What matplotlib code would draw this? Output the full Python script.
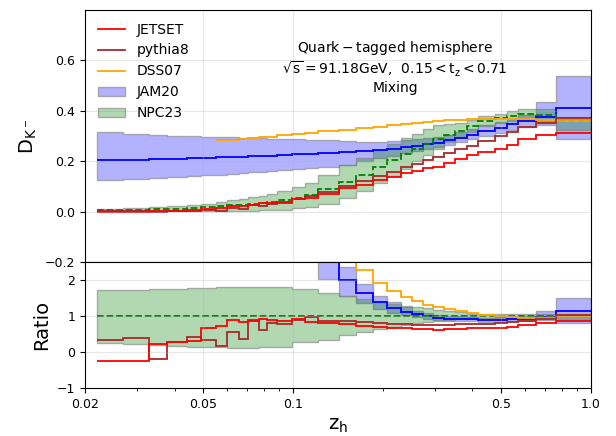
import matplotlib.pyplot as plt
import numpy as np
from matplotlib.lines import Line2D
from matplotlib.patches import Patch

plt.rcParams['mathtext.default'] = 'regular'

# z_h bin edges
z_edges = np.array([0.0219, 0.0269, 0.0329, 0.0378, 0.0439, 0.0489, 0.0549, 0.0598,
                    0.0658, 0.0707, 0.0768, 0.0815, 0.0881, 0.0989, 0.110, 0.121,
                    0.143, 0.163, 0.186, 0.207, 0.230, 0.251, 0.274, 0.295, 0.322,
                    0.351, 0.383, 0.419, 0.476, 0.525, 0.570, 0.657, 0.767, 1.0])

# NPC23 central value and band (band given relative to central)
npc23 = np.array([0.007, 0.008, 0.010, 0.012, 0.015, 0.018, 0.021, 0.025, 0.028, 0.032,
                  0.035, 0.039, 0.045, 0.055, 0.066, 0.088, 0.118, 0.146, 0.177, 0.203,
                  0.228, 0.250, 0.270, 0.290, 0.306, 0.320, 0.338, 0.358, 0.370, 0.380,
                  0.386, 0.382, 0.358])
npc23_lo_ratio = np.array([0.26, 0.23, 0.20, 0.17, 0.15, 0.14, 0.13, 0.12, 0.12, 0.12,
                           0.13, 0.15, 0.15, 0.27, 0.27, 0.33, 0.46, 0.55, 0.64, 0.70,
                           0.75, 0.80, 0.83, 0.86, 0.90, 0.92, 0.94, 0.95, 0.95, 0.95,
                           0.95, 0.92, 0.90])
npc23_hi_ratio = np.array([1.71, 1.72, 1.75, 1.76, 1.78, 1.79, 1.80, 1.81, 1.81, 1.82,
                           1.82, 1.80, 1.80, 1.75, 1.75, 1.63, 1.57, 1.47, 1.38, 1.33,
                           1.29, 1.24, 1.21, 1.18, 1.14, 1.10, 1.07, 1.06, 1.05, 1.05,
                           1.05, 1.07, 1.05])

# MC generators, relative to NPC23
jetset_ratio = np.array([-0.24, -0.24, 0.23, 0.28, 0.30, 0.67, 0.72, 0.88, 0.83, 0.87,
                         0.93, 0.90, 0.86, 0.91, 0.84, 0.81, 0.79, 0.72, 0.70, 0.68,
                         0.67, 0.64, 0.64, 0.61, 0.63, 0.65, 0.66, 0.66, 0.67, 0.70,
                         0.75, 0.80, 0.87])
pythia8_ratio = np.array([0.33, 0.39, -0.18, 0.28, 0.42, 0.33, 0.17, 0.56, 0.37, 0.88,
                          0.62, 0.81, 0.77, 0.90, 0.96, 0.87, 0.85, 0.83, 0.81, 0.78,
                          0.78, 0.76, 0.76, 0.75, 0.76, 0.78, 0.77, 0.78, 0.81, 0.83,
                          0.87, 0.92, 1.04])

# JAM20 central value and band
jam20 = np.array([0.203, 0.205, 0.207, 0.209, 0.211, 0.213, 0.215, 0.216, 0.218, 0.219,
                  0.220, 0.222, 0.224, 0.227, 0.229, 0.232, 0.236, 0.240, 0.244, 0.250,
                  0.256, 0.262, 0.268, 0.274, 0.284, 0.294, 0.306, 0.320, 0.333, 0.347,
                  0.358, 0.374, 0.410])
jam20_lo = np.array([0.127, 0.131, 0.135, 0.138, 0.141, 0.144, 0.147, 0.150, 0.153, 0.156,
                     0.159, 0.162, 0.166, 0.170, 0.174, 0.178, 0.185, 0.200, 0.212, 0.222,
                     0.232, 0.240, 0.248, 0.256, 0.265, 0.275, 0.287, 0.300, 0.312, 0.324,
                     0.336, 0.342, 0.290])
jam20_hi = np.array([0.316, 0.310, 0.305, 0.302, 0.300, 0.298, 0.296, 0.295, 0.294, 0.292,
                     0.291, 0.290, 0.288, 0.287, 0.286, 0.285, 0.280, 0.276, 0.277, 0.280,
                     0.283, 0.287, 0.292, 0.298, 0.306, 0.316, 0.328, 0.342, 0.355, 0.368,
                     0.382, 0.437, 0.540])

# DSS07 only covers z_h > 0.055
dss07_first_bin = 6
dss07 = np.array([0.284, 0.285, 0.290, 0.292, 0.295, 0.298, 0.303, 0.307, 0.312, 0.318,
                  0.325, 0.331, 0.337, 0.343, 0.348, 0.352, 0.356, 0.359, 0.362, 0.364,
                  0.366, 0.367, 0.368, 0.368, 0.367, 0.362, 0.358])

jetset = jetset_ratio * npc23
pythia8 = pythia8_ratio * npc23
npc23_lo = npc23_lo_ratio * npc23
npc23_hi = npc23_hi_ratio * npc23
dss_edges = z_edges[dss07_first_bin:]
dss07_ratio = dss07 / npc23[dss07_first_bin:]

jam_face = (0, 0, 1, 0.3)
npc_face = (0, 0.5, 0, 0.3)
band_edge = (0.5, 0.5, 0.5, 0.6)

fig, (ax, axr) = plt.subplots(2, 1, sharex=True, figsize=(6.16, 4.36), dpi=100,
                              gridspec_kw={'height_ratios': [2, 1]})
fig.subplots_adjust(left=0.138, right=0.959, top=0.977, bottom=0.110, hspace=0)

def draw(a, jet, pyt, dss, jam, jlo, jhi, nc, nlo, nhi):
    a.stairs(jhi, z_edges, baseline=jlo, fill=True, facecolor=jam_face,
             edgecolor=band_edge, linewidth=1)
    a.stairs(nhi, z_edges, baseline=nlo, fill=True, facecolor=npc_face,
             edgecolor=band_edge, linewidth=1)
    a.stairs(jam, z_edges, baseline=None, color='blue', linewidth=1.3)
    a.stairs(nc, z_edges, baseline=None, color='green', linestyle='--', linewidth=1.3)
    a.stairs(dss, dss_edges, baseline=None, color='orange', linewidth=1.3)
    a.stairs(pyt, z_edges, baseline=None, color='brown', linewidth=1.3)
    a.stairs(jet, z_edges, baseline=None, color='red', linewidth=1.3)
    a.grid(True, alpha=0.3)

draw(ax, jetset, pythia8, dss07, jam20, jam20_lo, jam20_hi, npc23, npc23_lo, npc23_hi)
draw(axr, jetset_ratio, pythia8_ratio, dss07_ratio, jam20 / npc23, jam20_lo / npc23,
     jam20_hi / npc23, np.ones_like(npc23), npc23_lo_ratio, npc23_hi_ratio)

ax.set_xscale('log')
ax.set_xlim(0.02, 1.0)
ax.set_ylim(-0.2, 0.8)
ax.set_yticks([-0.2, 0.0, 0.2, 0.4, 0.6])
axr.set_ylim(-1, 2.5)
axr.set_yticks([-1, 0, 1, 2])
axr.set_xticks([0.02, 0.05, 0.1, 0.5, 1.0])
axr.set_xticklabels(['0.02', '0.05', '0.1', '0.5', '1.0'])
for a in (ax, axr):
    a.tick_params(labelsize=9)

ax.set_ylabel(r'$D_{K^-}$', fontsize=14)
axr.set_ylabel('Ratio', fontsize=14)
axr.set_xlabel(r'$z_h$', fontsize=14)

ax.text(0.613, 0.85, r'$Quark-tagged\ hemisphere$', transform=ax.transAxes,
        ha='center', va='center', fontsize=10)
ax.text(0.613, 0.765, r'$\sqrt{s} = 91.18GeV,\ \,0.15 < t_z < 0.71$',
        transform=ax.transAxes, ha='center', va='center', fontsize=10)
ax.text(0.613, 0.69, 'Mixing', transform=ax.transAxes, ha='center', va='center',
        fontsize=10)

handles = [Line2D([], [], color='red', lw=1.3),
           Line2D([], [], color='brown', lw=1.3),
           Line2D([], [], color='orange', lw=1.3),
           Patch(facecolor=jam_face, edgecolor=band_edge),
           Patch(facecolor=npc_face, edgecolor=band_edge)]
ax.legend(handles, ['JETSET', 'pythia8', 'DSS07', 'JAM20', 'NPC23'],
          loc='upper left', frameon=False, fontsize=10)

fig.savefig('out.png', dpi=100)
